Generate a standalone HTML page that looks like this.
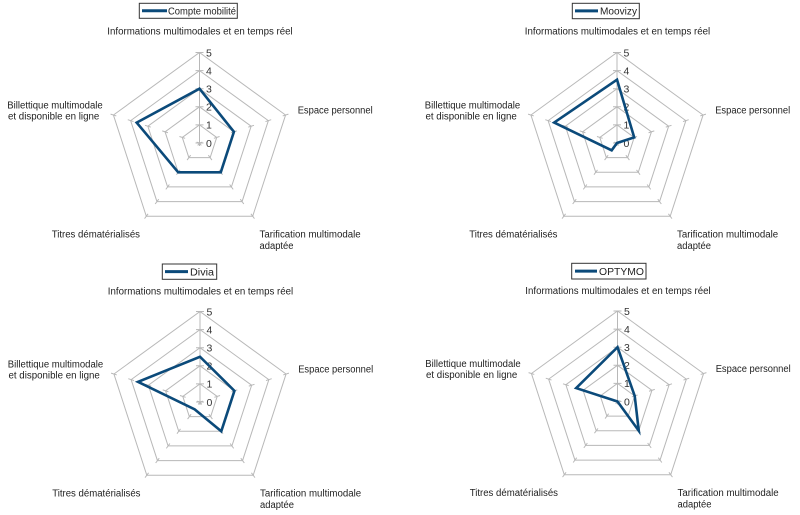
<!DOCTYPE html>
<html><head><meta charset="utf-8"><style>
html,body{margin:0;padding:0;background:#fff;}
svg{display:block;}
text{font-family:"Liberation Sans",Arial,sans-serif;fill:#222;}
.lab{font-size:10px;}
.num{font-size:10.5px;fill:#333;}
</style></head><body>
<svg width="800" height="515" viewBox="0 0 800 515" xmlns="http://www.w3.org/2000/svg">
<rect width="800" height="515" fill="#fff"/>

<!-- ===== Chart 1 ===== -->
<g transform="translate(199.5,143)">
 <g stroke="#b8b8b8" stroke-width="1" fill="none">
  <polygon points="0,-18.1 17.21,-5.59 10.64,14.64 -10.64,14.64 -17.21,-5.59"/>
  <polygon points="0,-36.2 34.43,-11.19 21.28,29.29 -21.28,29.29 -34.43,-11.19"/>
  <polygon points="0,-54.3 51.64,-16.78 31.92,43.93 -31.92,43.93 -51.64,-16.78"/>
  <polygon points="0,-72.4 68.86,-22.37 42.56,58.57 -42.56,58.57 -68.86,-22.37"/>
  <polygon points="0,-90.5 86.07,-27.97 53.19,73.22 -53.19,73.22 -86.07,-27.97"/>
  <g stroke-dasharray="3 12.1 6 12.1 6 12.1 6 12.1 6 12.1 6">
   <line x1="0" y1="0" x2="93.5" y2="0" transform="rotate(-18)"/>
   <line x1="0" y1="0" x2="93.5" y2="0" transform="rotate(54)"/>
   <line x1="0" y1="0" x2="93.5" y2="0" transform="rotate(126)"/>
   <line x1="0" y1="0" x2="93.5" y2="0" transform="rotate(198)"/>
  </g>
  <path d="M0,3V-90.5M-4,0h8M-4,-18.1h8M-4,-36.2h8M-4,-54.3h8M-4,-72.4h8M-4,-90.5h8"/>
 </g>
 <text class="num" x="6.5" y="3.8">0</text>
 <text class="num" x="6.5" y="-14.3">1</text>
 <text class="num" x="6.5" y="-32.4">2</text>
 <text class="num" x="6.5" y="-50.5">3</text>
 <text class="num" x="6.5" y="-68.6">4</text>
 <text class="num" x="6.5" y="-86.7">5</text>
 <polygon points="0,-54.3 34.43,-11.19 21.28,29.29 -21.28,29.29 -62.83,-20.42" fill="none" stroke="#0b4a7a" stroke-width="2.6" stroke-linejoin="miter"/>
</g>
<rect x="139.3" y="3.3" width="98" height="15" fill="#fff" stroke="#333" stroke-width="1"/>
<line x1="142" y1="10.8" x2="167" y2="10.8" stroke="#0b4a7a" stroke-width="3"/>
<text class="lab" x="168" y="14.5" textLength="68" lengthAdjust="spacingAndGlyphs">Compte mobilité</text>
<text class="lab" x="107.3" y="34.5" textLength="185.4" lengthAdjust="spacingAndGlyphs">Informations multimodales et en temps réel</text>
<text class="lab" x="7.3" y="108.5" textLength="95.4" lengthAdjust="spacingAndGlyphs">Billettique multimodale</text>
<text class="lab" x="8" y="119.5" textLength="91.3" lengthAdjust="spacingAndGlyphs">et disponible en ligne</text>
<text class="lab" x="297.7" y="113.5" textLength="75" lengthAdjust="spacingAndGlyphs">Espace personnel</text>
<text class="lab" x="51.7" y="237.5" textLength="88.3" lengthAdjust="spacingAndGlyphs">Titres dématérialisés</text>
<text class="lab" x="259.5" y="237.5" textLength="101.2" lengthAdjust="spacingAndGlyphs">Tarification multimodale</text>
<text class="lab" x="259.5" y="249" textLength="34" lengthAdjust="spacingAndGlyphs">adaptée</text>

<!-- ===== Chart 2 ===== -->
<g transform="translate(617,143)">
 <g stroke="#b8b8b8" stroke-width="1" fill="none">
  <polygon points="0,-18.1 17.21,-5.59 10.64,14.64 -10.64,14.64 -17.21,-5.59"/>
  <polygon points="0,-36.2 34.43,-11.19 21.28,29.29 -21.28,29.29 -34.43,-11.19"/>
  <polygon points="0,-54.3 51.64,-16.78 31.92,43.93 -31.92,43.93 -51.64,-16.78"/>
  <polygon points="0,-72.4 68.86,-22.37 42.56,58.57 -42.56,58.57 -68.86,-22.37"/>
  <polygon points="0,-90.5 86.07,-27.97 53.19,73.22 -53.19,73.22 -86.07,-27.97"/>
  <g stroke-dasharray="3 12.1 6 12.1 6 12.1 6 12.1 6 12.1 6">
   <line x1="0" y1="0" x2="93.5" y2="0" transform="rotate(-18)"/>
   <line x1="0" y1="0" x2="93.5" y2="0" transform="rotate(54)"/>
   <line x1="0" y1="0" x2="93.5" y2="0" transform="rotate(126)"/>
   <line x1="0" y1="0" x2="93.5" y2="0" transform="rotate(198)"/>
  </g>
  <path d="M0,3V-90.5M-4,0h8M-4,-18.1h8M-4,-36.2h8M-4,-54.3h8M-4,-72.4h8M-4,-90.5h8"/>
 </g>
 <text class="num" x="6.5" y="3.8">0</text>
 <text class="num" x="6.5" y="-14.3">1</text>
 <text class="num" x="6.5" y="-32.4">2</text>
 <text class="num" x="6.5" y="-50.5">3</text>
 <text class="num" x="6.5" y="-68.6">4</text>
 <text class="num" x="6.5" y="-86.7">5</text>
 <polygon points="0,-63.35 17.21,-5.59 0,0 -5.32,7.32 -62.83,-20.42" fill="none" stroke="#0b4a7a" stroke-width="2.6" stroke-linejoin="miter"/>
</g>
<rect x="572.3" y="3.3" width="67" height="15.4" fill="#fff" stroke="#333" stroke-width="1"/>
<line x1="575" y1="10.9" x2="598" y2="10.9" stroke="#0b4a7a" stroke-width="3"/>
<text class="lab" x="600" y="14.6" textLength="37" lengthAdjust="spacingAndGlyphs">Moovizy</text>
<text class="lab" x="524.8" y="34.5" textLength="185.4" lengthAdjust="spacingAndGlyphs">Informations multimodales et en temps réel</text>
<text class="lab" x="424.8" y="108.5" textLength="95.4" lengthAdjust="spacingAndGlyphs">Billettique multimodale</text>
<text class="lab" x="425.5" y="119.5" textLength="91.3" lengthAdjust="spacingAndGlyphs">et disponible en ligne</text>
<text class="lab" x="715.2" y="113.5" textLength="75" lengthAdjust="spacingAndGlyphs">Espace personnel</text>
<text class="lab" x="469.2" y="237.5" textLength="88.3" lengthAdjust="spacingAndGlyphs">Titres dématérialisés</text>
<text class="lab" x="677" y="237.5" textLength="101.2" lengthAdjust="spacingAndGlyphs">Tarification multimodale</text>
<text class="lab" x="677" y="249" textLength="34" lengthAdjust="spacingAndGlyphs">adaptée</text>

<!-- ===== Chart 3 ===== -->
<g transform="translate(200,402)">
 <g stroke="#b8b8b8" stroke-width="1" fill="none">
  <polygon points="0,-18.1 17.21,-5.59 10.64,14.64 -10.64,14.64 -17.21,-5.59"/>
  <polygon points="0,-36.2 34.43,-11.19 21.28,29.29 -21.28,29.29 -34.43,-11.19"/>
  <polygon points="0,-54.3 51.64,-16.78 31.92,43.93 -31.92,43.93 -51.64,-16.78"/>
  <polygon points="0,-72.4 68.86,-22.37 42.56,58.57 -42.56,58.57 -68.86,-22.37"/>
  <polygon points="0,-90.5 86.07,-27.97 53.19,73.22 -53.19,73.22 -86.07,-27.97"/>
  <g stroke-dasharray="3 12.1 6 12.1 6 12.1 6 12.1 6 12.1 6">
   <line x1="0" y1="0" x2="93.5" y2="0" transform="rotate(-18)"/>
   <line x1="0" y1="0" x2="93.5" y2="0" transform="rotate(54)"/>
   <line x1="0" y1="0" x2="93.5" y2="0" transform="rotate(126)"/>
   <line x1="0" y1="0" x2="93.5" y2="0" transform="rotate(198)"/>
  </g>
  <path d="M0,3V-90.5M-4,0h8M-4,-18.1h8M-4,-36.2h8M-4,-54.3h8M-4,-72.4h8M-4,-90.5h8"/>
 </g>
 <text class="num" x="6.5" y="3.8">0</text>
 <text class="num" x="6.5" y="-14.3">1</text>
 <text class="num" x="6.5" y="-32.4">2</text>
 <text class="num" x="6.5" y="-50.5">3</text>
 <text class="num" x="6.5" y="-68.6">4</text>
 <text class="num" x="6.5" y="-86.7">5</text>
 <polygon points="0,-45.25 34.43,-11.19 21.28,29.29 -5.32,7.32 -61.97,-20.14" fill="none" stroke="#0b4a7a" stroke-width="2.6" stroke-linejoin="miter"/>
</g>
<rect x="162.3" y="264" width="54.4" height="15.3" fill="#fff" stroke="#333" stroke-width="1"/>
<line x1="165" y1="271.6" x2="188" y2="271.6" stroke="#0b4a7a" stroke-width="3"/>
<text class="lab" x="190" y="275.3" textLength="24" lengthAdjust="spacingAndGlyphs">Divia</text>
<text class="lab" x="107.8" y="294.5" textLength="185.4" lengthAdjust="spacingAndGlyphs">Informations multimodales et en temps réel</text>
<text class="lab" x="7.8" y="367.5" textLength="95.4" lengthAdjust="spacingAndGlyphs">Billettique multimodale</text>
<text class="lab" x="8.5" y="378.5" textLength="91.3" lengthAdjust="spacingAndGlyphs">et disponible en ligne</text>
<text class="lab" x="298.2" y="372.5" textLength="75" lengthAdjust="spacingAndGlyphs">Espace personnel</text>
<text class="lab" x="52.2" y="496.5" textLength="88.3" lengthAdjust="spacingAndGlyphs">Titres dématérialisés</text>
<text class="lab" x="260" y="496.5" textLength="101.2" lengthAdjust="spacingAndGlyphs">Tarification multimodale</text>
<text class="lab" x="260" y="508" textLength="34" lengthAdjust="spacingAndGlyphs">adaptée</text>

<!-- ===== Chart 4 ===== -->
<g transform="translate(617.5,401.5)">
 <g stroke="#b8b8b8" stroke-width="1" fill="none">
  <polygon points="0,-18.1 17.21,-5.59 10.64,14.64 -10.64,14.64 -17.21,-5.59"/>
  <polygon points="0,-36.2 34.43,-11.19 21.28,29.29 -21.28,29.29 -34.43,-11.19"/>
  <polygon points="0,-54.3 51.64,-16.78 31.92,43.93 -31.92,43.93 -51.64,-16.78"/>
  <polygon points="0,-72.4 68.86,-22.37 42.56,58.57 -42.56,58.57 -68.86,-22.37"/>
  <polygon points="0,-90.5 86.07,-27.97 53.19,73.22 -53.19,73.22 -86.07,-27.97"/>
  <g stroke-dasharray="3 12.1 6 12.1 6 12.1 6 12.1 6 12.1 6">
   <line x1="0" y1="0" x2="93.5" y2="0" transform="rotate(-18)"/>
   <line x1="0" y1="0" x2="93.5" y2="0" transform="rotate(54)"/>
   <line x1="0" y1="0" x2="93.5" y2="0" transform="rotate(126)"/>
   <line x1="0" y1="0" x2="93.5" y2="0" transform="rotate(198)"/>
  </g>
  <path d="M0,3V-90.5M-4,0h8M-4,-18.1h8M-4,-36.2h8M-4,-54.3h8M-4,-72.4h8M-4,-90.5h8"/>
 </g>
 <text class="num" x="6.5" y="3.8">0</text>
 <text class="num" x="6.5" y="-14.3">1</text>
 <text class="num" x="6.5" y="-32.4">2</text>
 <text class="num" x="6.5" y="-50.5">3</text>
 <text class="num" x="6.5" y="-68.6">4</text>
 <text class="num" x="6.5" y="-86.7">5</text>
 <polygon points="0,-54.3 17.21,-5.59 21.28,29.29 0,0 -41.31,-13.42" fill="none" stroke="#0b4a7a" stroke-width="2.6" stroke-linejoin="miter"/>
</g>
<rect x="571.7" y="263.3" width="74.3" height="15.7" fill="#fff" stroke="#333" stroke-width="1"/>
<line x1="575" y1="271.1" x2="597" y2="271.1" stroke="#0b4a7a" stroke-width="3"/>
<text class="lab" x="599" y="274.8" textLength="45" lengthAdjust="spacingAndGlyphs">OPTYMO</text>
<text class="lab" x="525.3" y="294" textLength="185.4" lengthAdjust="spacingAndGlyphs">Informations multimodales et en temps réel</text>
<text class="lab" x="425.3" y="367" textLength="95.4" lengthAdjust="spacingAndGlyphs">Billettique multimodale</text>
<text class="lab" x="426" y="378" textLength="91.3" lengthAdjust="spacingAndGlyphs">et disponible en ligne</text>
<text class="lab" x="715.7" y="372" textLength="75" lengthAdjust="spacingAndGlyphs">Espace personnel</text>
<text class="lab" x="469.7" y="496" textLength="88.3" lengthAdjust="spacingAndGlyphs">Titres dématérialisés</text>
<text class="lab" x="677.5" y="496" textLength="101.2" lengthAdjust="spacingAndGlyphs">Tarification multimodale</text>
<text class="lab" x="677.5" y="507.5" textLength="34" lengthAdjust="spacingAndGlyphs">adaptée</text>
</svg>
</body></html>
